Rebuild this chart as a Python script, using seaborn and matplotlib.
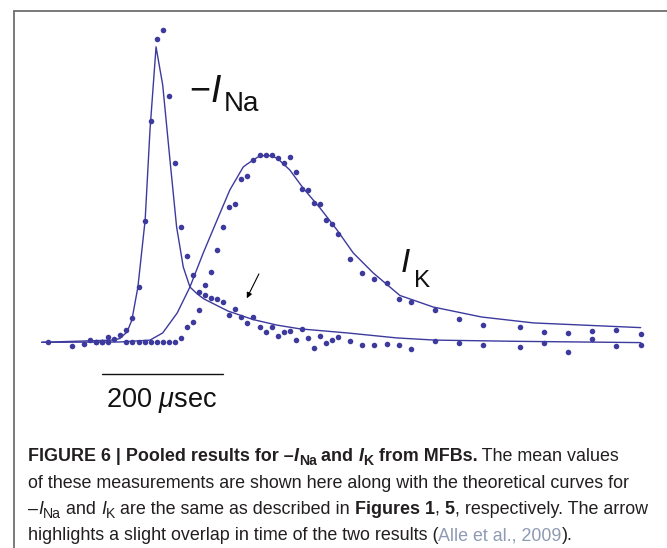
import numpy as np
import pandas as pd
import matplotlib
matplotlib.use("Agg")
import matplotlib.pyplot as plt
from matplotlib.lines import Line2D
import seaborn as sns

sns.set_theme(style="white")
plt.rcParams["font.family"] = ["Liberation Sans", "DejaVu Sans"]
plt.rcParams["mathtext.fontset"] = "custom"
plt.rcParams["mathtext.it"] = "Liberation Sans:italic"
plt.rcParams["mathtext.rm"] = "Liberation Sans"

# ---------------- data (time in microseconds, current normalised) -------------
na_t = [10, 50, 70, 80, 90, 100, 110, 120, 130, 140, 150, 160, 170, 180, 190, 200,
        210, 220, 230, 240, 250, 260, 270, 280, 290, 300, 310, 320, 330, 340, 350,
        360, 370, 380, 390, 400, 410, 420, 430, 440, 450, 460, 470, 480, 490, 510,
        530, 550, 570, 590, 610, 650, 690, 730, 790, 830, 870, 910, 950, 990]
na_v = [0.000, -0.011, -0.005, 0.007, 0.002, 0.002, 0.018, 0.011, 0.023, 0.039,
        0.079, 0.176, 0.389, 0.710, 0.970, 1.000, 0.789, 0.575, 0.369, 0.276,
        0.215, 0.162, 0.153, 0.143, 0.139, 0.129, 0.089, 0.107, 0.082, 0.061,
        0.080, 0.048, 0.032, 0.050, 0.020, 0.032, 0.036, 0.007, 0.043, 0.015,
        -0.017, 0.021, -0.003, 0.007, 0.016, 0.005, -0.010, -0.010, -0.006, -0.010,
        -0.023, 0.004, -0.003, -0.009, -0.014, -0.001, -0.030, 0.010, -0.011, -0.009]

k_t = [90, 100, 110, 140, 150, 160, 170, 180, 190, 200, 210, 220, 230, 240, 250,
       260, 270, 280, 290, 300, 310, 320, 330, 340, 350, 360, 370, 380, 390, 400,
       410, 420, 430, 440, 450, 460, 470, 480, 490, 510, 530, 550, 570, 590, 610,
       650, 690, 730, 790, 830, 870, 910, 950, 990]
k_v = [0.002, 0.002, 0.002, 0.000, 0.000, 0.000, 0.000, 0.000, 0.000, 0.000,
       0.000, 0.000, 0.013, 0.048, 0.066, 0.103, 0.183, 0.226, 0.296, 0.368,
       0.434, 0.442, 0.522, 0.532, 0.584, 0.600, 0.600, 0.600, 0.589, 0.573,
       0.592, 0.544, 0.491, 0.488, 0.447, 0.442, 0.392, 0.378, 0.346, 0.267,
       0.223, 0.202, 0.189, 0.140, 0.130, 0.102, 0.076, 0.056, 0.048, 0.034,
       0.031, 0.036, 0.039, 0.027]

# theoretical curves
na_fit_t = [0, 118, 129, 141, 149, 159, 171, 179, 189, 200, 212, 223, 234, 245,
            257, 268, 308, 349, 389, 427, 505, 587, 650, 790, 990]
na_fit_v = [0.000, 0.007, 0.012, 0.033, 0.071, 0.177, 0.392, 0.680, 0.946, 0.824,
            0.584, 0.369, 0.241, 0.177, 0.155, 0.139, 0.100, 0.073, 0.055, 0.043,
            0.030, 0.014, 0.007, 0.003, -0.001]

k_fit_t = [0, 129, 179, 200, 224, 245, 267, 290, 311, 333, 339, 357, 372, 389,
           410, 432, 460, 488, 515, 548, 592, 647, 727, 813, 990]
k_fit_v = [0.000, 0.001, 0.007, 0.030, 0.094, 0.177, 0.286, 0.392, 0.488, 0.561,
           0.570, 0.593, 0.600, 0.590, 0.552, 0.494, 0.430, 0.360, 0.286, 0.222,
           0.150, 0.113, 0.081, 0.062, 0.047]

scale_len_us = 200

# ---------------- figure ----------------
W, H = 667, 548
fig = plt.figure(figsize=(W / 100, H / 100), dpi=100)
ax = fig.add_axes([0, 0, 1, 1])
ax.set_xlim(-68.93, 1033.55)
ax.set_ylim(-0.6587, 1.0961)
ax.axis("off")

col = "#3d3a9e"
pts = pd.concat([
    pd.DataFrame({"t": na_t, "v": na_v, "s": "Na"}),
    pd.DataFrame({"t": k_t, "v": k_v, "s": "K"}),
])
fits = pd.concat([
    pd.DataFrame({"t": na_fit_t, "v": na_fit_v, "s": "Na"}),
    pd.DataFrame({"t": k_fit_t, "v": k_fit_v, "s": "K"}),
])
sns.lineplot(data=fits, x="t", y="v", units="s", estimator=None, sort=False,
             color=col, lw=1.0, ax=ax, legend=False)
sns.scatterplot(data=pts, x="t", y="v", color=col, s=16, linewidth=0, ax=ax,
                legend=False, zorder=3)

# arrow
ax.annotate("", xy=(339, 0.141), xytext=(359, 0.219),
            arrowprops=dict(arrowstyle="-|>", color="black", lw=0.8,
                            mutation_scale=8, shrinkA=0, shrinkB=0))

# scale bar
ax.plot([100, 100 + scale_len_us], [-0.1015, -0.1015], color="#111111", lw=1.0)


def fx(x):
    return x / W


def fy(y):
    return 1 - y / H


fig.text(fx(162), fy(407), r"200 $\mu$sec", fontsize=19.5, ha="center",
         va="baseline", color="#111111")

# curve labels
fig.text(fx(189), fy(100), "\u2212", fontsize=26, va="baseline", color="#111111")
fig.text(fx(211), fy(102), "I", fontsize=27, style="italic", va="baseline",
         color="#111111")
fig.text(fx(224), fy(111), "Na", fontsize=20, va="baseline", color="#111111")
fig.text(fx(401), fy(272), "I", fontsize=24, style="italic", va="baseline",
         color="#111111")
fig.text(fx(414), fy(287), "K", fontsize=17.5, va="baseline", color="#111111")

# frame
fig.add_artist(Line2D([fx(14), 1], [fy(11), fy(11)], color="#6f6f6f", lw=1.3))
fig.add_artist(Line2D([fx(14), fx(14)], [fy(11), 0], color="#6f6f6f", lw=1.3))

# caption with mixed formatting
renderer = fig.canvas.get_renderer()
cap_fs = 12.9
tc = "#231f20"


def run_line(x0, base, runs):
    x = x0
    for txt, kw in runs:
        size = cap_fs
        yoff = 0
        if kw.get("sub"):
            size = cap_fs * 0.78
            yoff = 4
        t = fig.text(fx(x), fy(base + yoff), txt, fontsize=size, va="baseline",
                     ha="left", fontweight=kw.get("w", "normal"),
                     fontstyle=kw.get("st", "normal"), color=kw.get("c", tc))
        bb = t.get_window_extent(renderer=renderer)
        x += bb.width


B = {"w": "bold"}
BI = {"w": "bold", "st": "italic"}
BS = {"w": "bold", "sub": True}
N = {}
I = {"st": "italic"}
S = {"sub": True}

run_line(28, 461, [("FIGURE 6 | Pooled results for \u2013", B), ("I", BI), ("Na", BS),
                   (" and ", B), ("I", BI), ("K", BS), (" from MFBs.", B),
                   (" The mean values", N)])
run_line(28, 487.5, [("of these measurements are shown here along with the theoretical curves for", N)])
run_line(28, 514, [("\u2013", N), ("I", I), ("Na", S), (" and ", N), ("I", I), ("K", S),
                   (" are the same as described in ", N), ("Figures 1", B), (", ", N),
                   ("5", B), (", respectively. The arrow", N)])
run_line(28, 540.5, [("highlights a slight overlap in time of the two results (", N),
                     ("Alle et al., 2009", {"c": "#8f9bb3"}), (").", N)])

fig.savefig("out.png", dpi=100)
